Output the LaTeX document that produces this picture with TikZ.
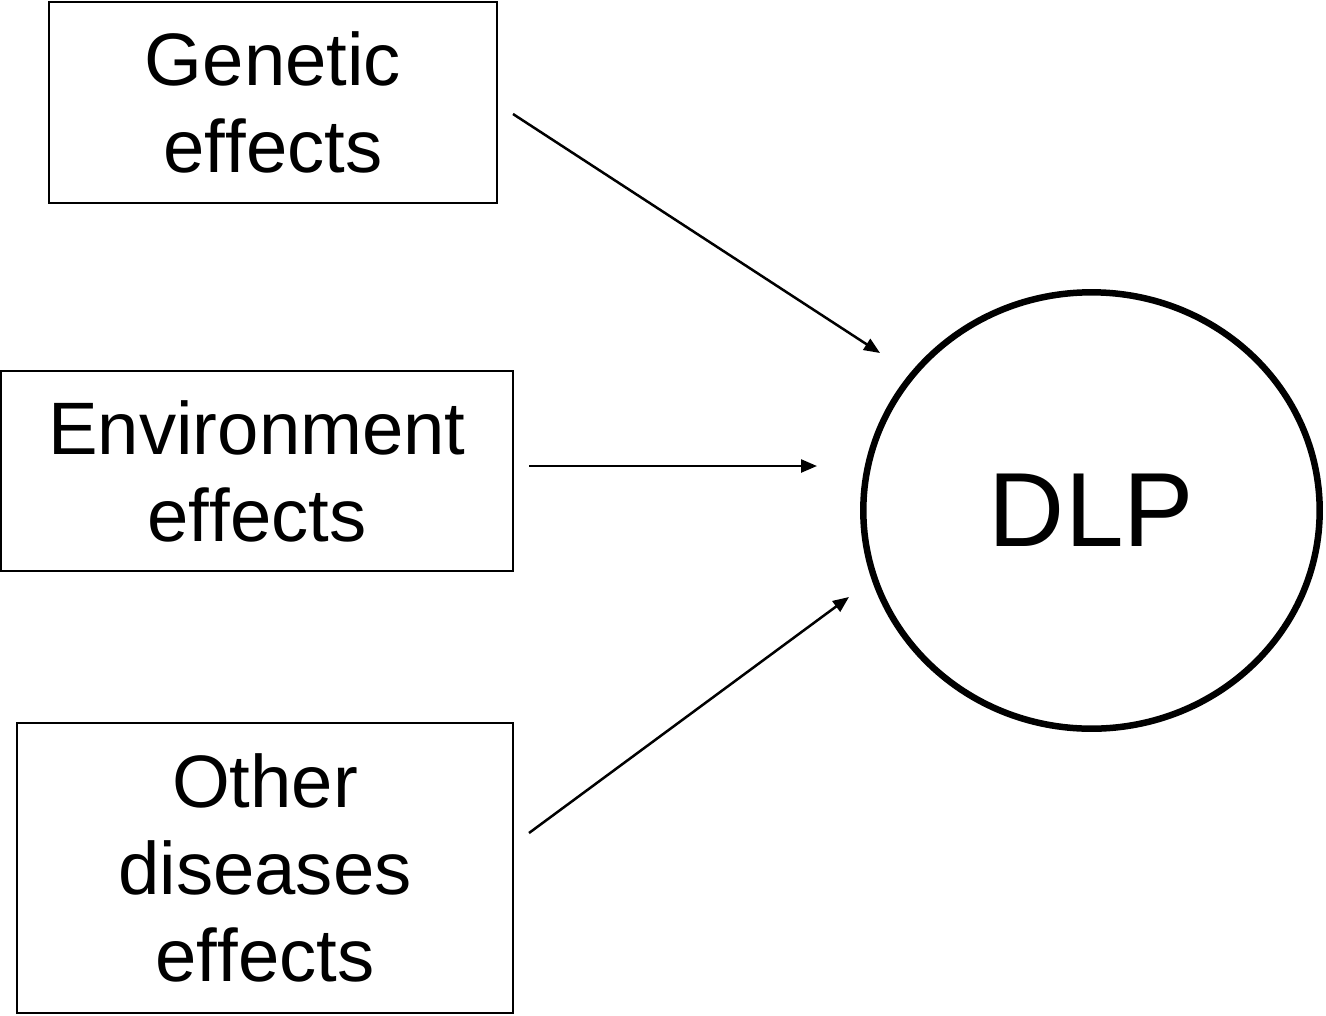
\documentclass[tikz,border=0pt]{standalone}
\usepackage{fontspec}
\setmainfont[RawFeature={-liga}]{Liberation Sans}
\usetikzlibrary{arrows.meta,shapes.geometric}
\newcommand{\effx}{ef\kern0pt fects}
\begin{document}
\begin{tikzpicture}[x=0.02cm,y=-0.02cm,
  box/.style={draw, line width=0.04cm, inner sep=0pt, align=center,
    font=\fontsize{42.3pt}{49.5pt}\selectfont},
  arr/.style={line width=0.05cm, -{Triangle[length=0.32cm,width=0.26cm]}}]
\useasboundingbox (0,0) rectangle (1326,1015);
\node[box, minimum width=8.96cm, minimum height=4.02cm] (gen) at (273,102.5) {Genetic\\\effx};
\node[box, minimum width=10.24cm, minimum height=4.0cm] (env) at (257,471) {Environment\\\effx};
\node[box, minimum width=9.92cm, minimum height=5.8cm] (oth) at (265,868) {Other\\diseases\\\effx};
\node[draw, ellipse, line width=0.13cm, minimum width=9.13cm, minimum height=8.73cm, inner sep=0pt,
  font=\fontsize{60pt}{72pt}\selectfont] (dlp) at (1091.5,510.5) {DLP};
\coordinate (g1) at (513,114);
\coordinate (g2) at (880,353);
\coordinate (e1) at (529,466);
\coordinate (e2) at (817,466);
\coordinate (o1) at (529,833);
\coordinate (o2) at (849,597);
\draw[arr] (g1) -- (g2);
\draw[arr] (e1) -- (e2);
\draw[arr] (o1) -- (o2);
\end{tikzpicture}
\end{document}
